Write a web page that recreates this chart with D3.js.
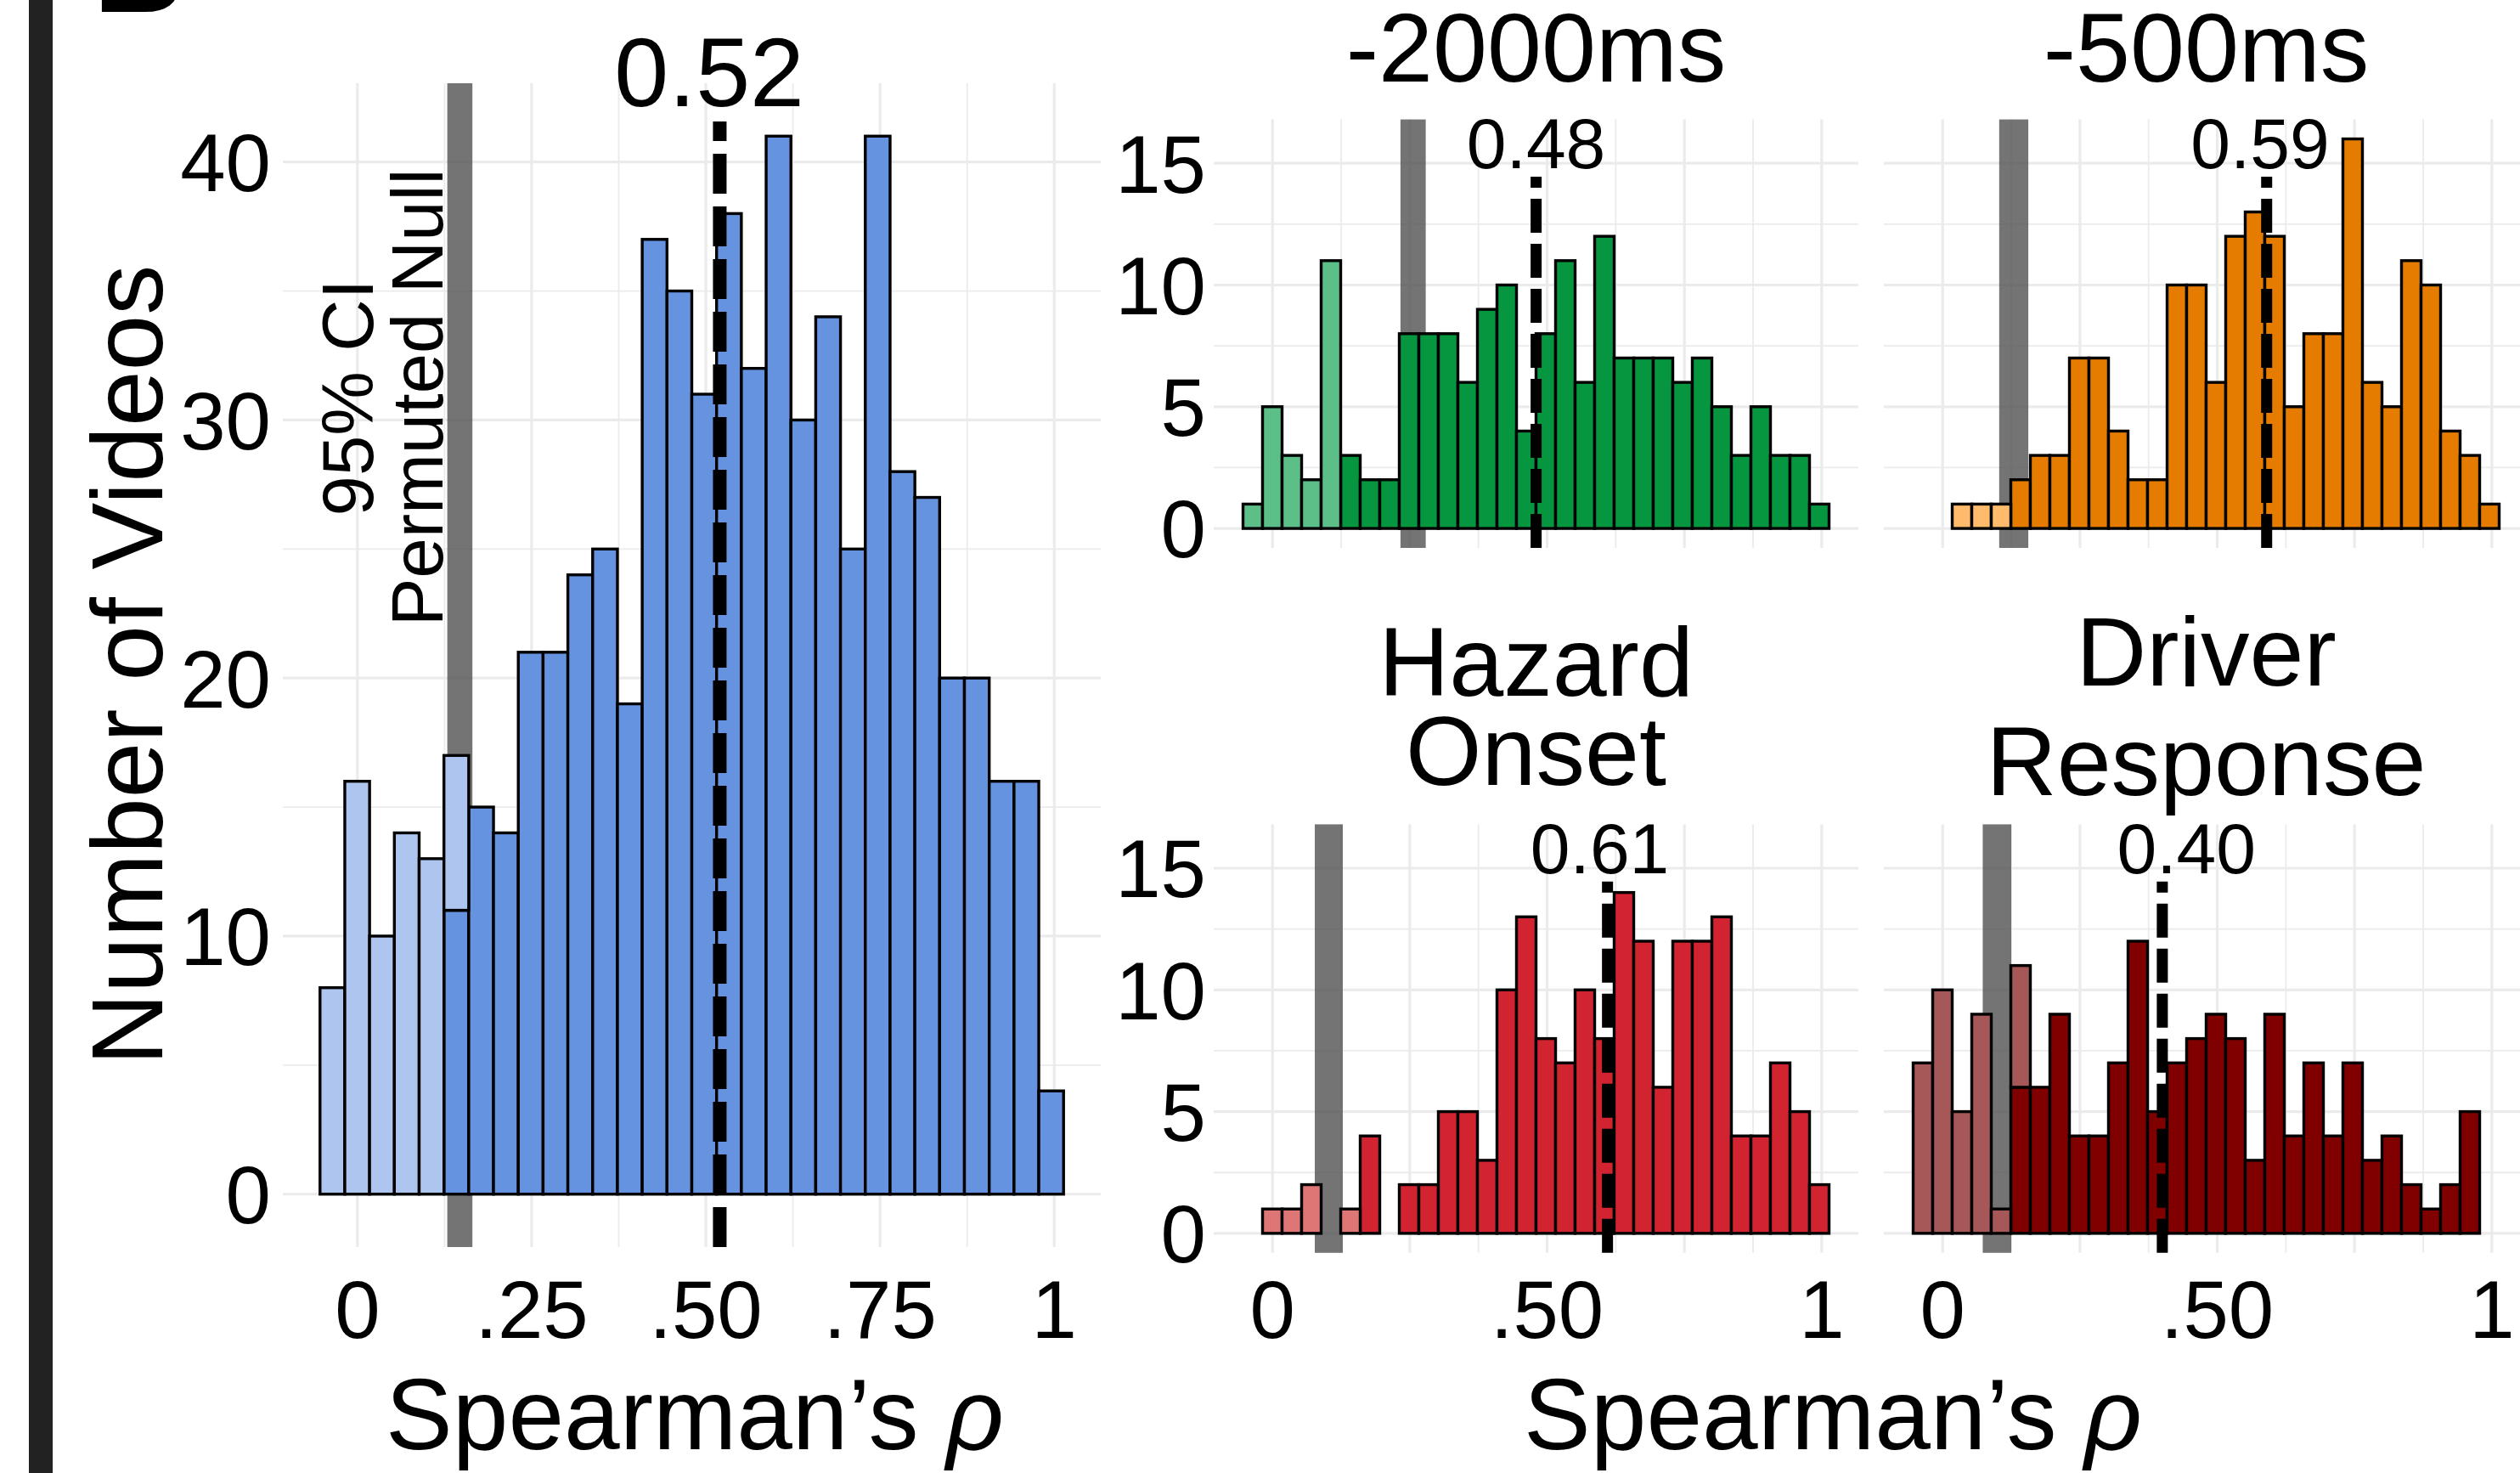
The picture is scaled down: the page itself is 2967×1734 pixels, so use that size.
<!DOCTYPE html>
<html>
<head>
<meta charset="utf-8">
<script src="https://cdn.jsdelivr.net/npm/d3@7/dist/d3.min.js"></script>
<style>
  body { margin: 0; background: #fff; }
  svg text { font-family: "Liberation Sans", Arial, sans-serif; fill: #000; }
</style>
</head>
<body>
<script>
// histogram bins (shared by every panel)
var binStart = -0.0537;
var binWidth = 0.03557;
var nBins = 30;

// left panel: all videos
var mainDark  = [0,0,0,0,0,11,15,14,21,21,24,25,19,37,35,31,38,32,41,30,34,25,41,28,27,20,20,16,16,4];
var mainLight = [8,16,10,14,13,6,0,0,0,0,0,0,0,0,0,0,0,0,0,0,0,0,0,0,0,0,0,0,0,0];
var mainMedian = 0.52;
var mainNull = [0.129, 0.165];

// right panels: one per time window
var facetTitles = [["-2000ms"], ["-500ms"], ["Hazard", "Onset"], ["Driver", "Response"]];
var facetDark = [
  [0,0,0,0,0,3,2,2,8,8,8,6,9,10,4,8,11,6,12,7,7,7,6,7,5,3,5,3,3,1],
  [0,0,0,0,0,2,3,3,7,7,4,2,2,10,10,6,12,13,12,5,8,8,16,6,5,11,10,4,3,1],
  [0,0,0,0,0,0,4,0,2,2,5,5,3,10,13,8,7,10,8,14,12,6,12,12,13,4,4,7,5,2],
  [0,0,0,0,0,6,6,9,4,4,7,12,5,7,8,9,8,3,9,4,7,4,7,3,4,2,1,2,5,0]
];
var facetLight = [
  [1,5,3,2,11,0,0,0,0,0,0,0,0,0,0,0,0,0,0,0,0,0,0,0,0,0,0,0,0,0],
  [0,0,1,1,1,0,0,0,0,0,0,0,0,0,0,0,0,0,0,0,0,0,0,0,0,0,0,0,0,0],
  [0,1,1,2,0,1,0,0,0,0,0,0,0,0,0,0,0,0,0,0,0,0,0,0,0,0,0,0,0,0],
  [7,10,5,9,1,5,0,0,0,0,0,0,0,0,0,0,0,0,0,0,0,0,0,0,0,0,0,0,0,0]
];
var facetMedian = [0.48, 0.59, 0.61, 0.40];
var facetNull = [[0.233, 0.279], [0.103, 0.156], [0.077, 0.128], [0.073, 0.125]];

var mainXTicks = [0, 0.25, 0.5, 0.75, 1];
var mainXLabels = ["0", ".25", ".50", ".75", "1"];
var facetXTicks = [0, 0.5, 1];
var facetXLabels = ["0", ".50", "1"];
var mainYTicks = [0, 10, 20, 30, 40];
var facetYTicks = [0, 5, 10, 15];

// colours
var mainColors = ["#6693e0", "#aec5f0"];
var facetColors = [["#05963f", "#5bbf87"], ["#e57c00", "#ffbb6b"], ["#d22430", "#de7676"], ["#800000", "#a65757"]];

var W = 2967, H = 1734;
var svg = d3.select("body").append("svg")
  .attr("width", W).attr("height", H);

var binEdges = d3.range(nBins).map(function(i){ return binStart + i * binWidth; });
var xLo = binStart, xHi = binStart + nBins * binWidth;
var xPad = (xHi - xLo) * 0.05;
var xDomain = [xLo - xPad, xHi + xPad];

var gridCol = "#ebebeb";

var drawPanel = function(p){
  var g = svg.append("g");
  var x = d3.scaleLinear().domain(xDomain).range([p.left, p.right]);
  var y = d3.scaleLinear().domain(p.yDomain).range([p.bottom, p.top]);

  // grid
  var xg = d3.range(0, 1.0001, 0.125);
  g.selectAll(".vg").data(xg).enter().append("line")
    .attr("x1", function(d){ return x(d); }).attr("x2", function(d){ return x(d); })
    .attr("y1", p.top).attr("y2", p.bottom)
    .attr("stroke", gridCol)
    .attr("stroke-width", function(d,i){ return i % 2 == 0 ? 3.2 : 1.8; });
  g.selectAll(".hg").data(p.yGrid).enter().append("line")
    .attr("x1", p.left).attr("x2", p.right)
    .attr("y1", function(d){ return y(d); }).attr("y2", function(d){ return y(d); })
    .attr("stroke", gridCol)
    .attr("stroke-width", function(d,i){ return i % 2 == 0 ? 3.2 : 1.8; });

  // permuted null band
  g.append("rect")
    .attr("x", x(p.nullCI[0])).attr("width", x(p.nullCI[1]) - x(p.nullCI[0]))
    .attr("y", p.top).attr("height", p.bottom - p.top)
    .attr("fill", "#4d4d4d").attr("fill-opacity", 0.78);

  // bars: dark at the bottom, light stacked on top
  var bars = binEdges.map(function(e, i){
    return {x0: e, dark: p.dark[i], light: p.light[i]};
  });
  g.selectAll(".bd").data(bars.filter(function(d){ return d.dark > 0; })).enter().append("rect")
    .attr("x", function(d){ return x(d.x0); })
    .attr("width", function(d){ return x(d.x0 + binWidth) - x(d.x0); })
    .attr("y", function(d){ return y(d.dark); })
    .attr("height", function(d){ return y(0) - y(d.dark); })
    .attr("fill", p.colors[0]).attr("stroke", "#000").attr("stroke-width", 3.4);
  g.selectAll(".bl").data(bars.filter(function(d){ return d.light > 0; })).enter().append("rect")
    .attr("x", function(d){ return x(d.x0); })
    .attr("width", function(d){ return x(d.x0 + binWidth) - x(d.x0); })
    .attr("y", function(d){ return y(d.dark + d.light); })
    .attr("height", function(d){ return y(d.dark) - y(d.dark + d.light); })
    .attr("fill", p.colors[1]).attr("stroke", "#000").attr("stroke-width", 3.4);

  // median line + label
  g.append("line")
    .attr("x1", x(p.median)).attr("x2", x(p.median))
    .attr("y1", p.bottom).attr("y2", y(p.lineTop))
    .attr("stroke", "#000").attr("stroke-width", p.lineW)
    .attr("stroke-dasharray", p.dash);
  g.append("text")
    .attr("x", x(p.labelX)).attr("y", y(p.labelY))
    .attr("text-anchor", "middle")
    .attr("font-size", p.labelSize)
    .text(p.median.toFixed(2));

  // y tick labels
  if (p.yTicks) {
    g.selectAll(".yl").data(p.yTicks).enter().append("text")
      .attr("x", p.left - p.yLabGap)
      .attr("y", function(d){ return y(d) + 96 * 0.358; })
      .attr("text-anchor", "end")
      .attr("font-size", 96)
      .text(function(d){ return d; });
  }
  // x tick labels
  if (p.xTicks) {
    g.selectAll(".xl").data(p.xTicks).enter().append("text")
      .attr("x", function(d){ return x(d); })
      .attr("y", 1575)
      .attr("text-anchor", "middle")
      .attr("font-size", 96)
      .text(function(d, i){ return p.xLabels[i]; });
  }
  return {x: x, y: y};
};

// left divider and cut-off panel letter
svg.append("rect").attr("x", 34).attr("y", 0).attr("width", 28).attr("height", H).attr("fill", "#222");
svg.append("text").attr("x", 110).attr("y", 14).attr("font-size", 148).attr("font-weight", "bold").text("B");

// main panel
var mainP = drawPanel({
  left: 333, right: 1296, top: 98, bottom: 1468,
  yDomain: [-2.05, 43.05], yGrid: d3.range(0, 41, 5),
  nullCI: mainNull, dark: mainDark, light: mainLight, colors: mainColors,
  median: mainMedian, lineTop: 41.57, lineW: 16, dash: "47,15",
  labelX: 0.505, labelY: 42.17, labelSize: 115,
  yTicks: mainYTicks, yLabGap: 14, xTicks: mainXTicks, xLabels: mainXLabels
});

// null annotation
var nullText = ["95% CI", "Permuted Null"];
svg.selectAll(".nt").data(nullText).enter().append("text")
  .attr("transform", function(d, i){
    var bx = mainP.x(mainNull[0]) - 6 - (1 - i) * 82;
    return "translate(" + bx + ",468) rotate(-90)";
  })
  .attr("text-anchor", "middle")
  .attr("font-size", 85)
  .text(function(d){ return d; });

svg.append("text")
  .attr("transform", "translate(191,783) rotate(-90)")
  .attr("text-anchor", "middle").attr("font-size", 118)
  .text("Number of Videos");

var xTitle = function(cx){
  var t = svg.append("text").attr("x", cx).attr("y", 1706)
    .attr("text-anchor", "middle").attr("font-size", 118);
  t.append("tspan").text("Spearman\u2019s ");
  t.append("tspan").attr("font-style", "italic").text("\u03c1");
};
xTitle(818);

// facets
var colLeft = [1429, 2218];
var rowTop = [140.6, 970.4];
var pw = 759, ph = 504.4;
var titleBase = [96, 96, 871, 871];
var titleGap = [0, 0, 105, 129];

facetTitles.forEach(function(title, k){
  var c = k % 2, r = Math.floor(k / 2);
  var p = {
    left: colLeft[c], right: colLeft[c] + pw, top: rowTop[r], bottom: rowTop[r] + ph,
    yDomain: [-0.8, 16.8], yGrid: d3.range(0, 15.1, 2.5),
    nullCI: facetNull[k], dark: facetDark[k], light: facetLight[k], colors: facetColors[k],
    median: facetMedian[k], lineTop: 14.45, lineW: 13, dash: "40,13",
    labelX: [0.48, 0.578, 0.596, 0.444][k], labelY: 14.8, labelSize: 84,
    yTicks: c == 0 ? facetYTicks : null, yLabGap: 9,
    xTicks: r == 1 ? facetXTicks : null, xLabels: facetXLabels
  };
  drawPanel(p);

  var cx = p.left + pw / 2;
  var n = title.length;
  svg.selectAll(".st" + k).data(title).enter().append("text")
    .attr("x", cx)
    .attr("y", function(d, i){ return titleBase[k] + (i - (n - 1) / 2) * titleGap[k]; })
    .attr("text-anchor", "middle").attr("font-size", 115)
    .text(function(d){ return d; });
});

xTitle(2158);
</script>
</body>
</html>
